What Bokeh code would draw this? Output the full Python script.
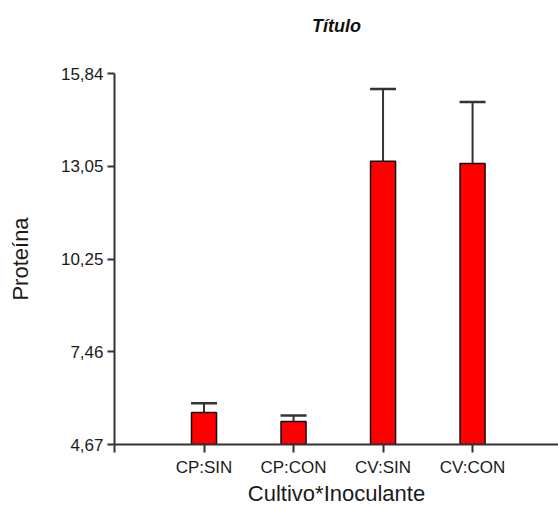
from bokeh.plotting import figure
from bokeh.models import Range1d, FixedTicker, Whisker, TeeHead, ColumnDataSource, LinearAxis
from bokeh.embed import file_html
from bokeh.resources import INLINE

categories = ["CP:SIN", "CP:CON", "CV:SIN", "CV:CON"]
means = [5.63, 5.36, 13.20, 13.13]
errors = [0.28, 0.18, 2.17, 1.85]
y_ticks = [4.67, 7.46, 10.25, 13.05, 15.84]
y_tick_labels = ["4,67", "7,46", "10,25", "13,05", "15,84"]
title_text = "Título"

xs = list(range(1, len(categories) + 1))
uppers = [m + e for m, e in zip(means, errors)]
src = ColumnDataSource(dict(x=xs, top=means, upper=uppers))

FONT = "Liberation Sans"
AX = "#333333"
TXT = "#1a1a1a"

p = figure(width=558, height=508, output_backend="svg", toolbar_location=None,
           x_range=Range1d(0, 4.96), y_range=Range1d(y_ticks[0], y_ticks[-1]),
           min_border_left=114, min_border_right=0, min_border_top=73, min_border_bottom=64)
p.outline_line_color = None
p.grid.visible = False
p.background_fill_color = "white"
p.border_fill_color = "white"

p.vbar(x="x", top="top", bottom=y_ticks[0], width=0.28, source=src,
       fill_color="#ff0000", line_color="#111111", line_width=1.5)
w = Whisker(base="x", lower="top", upper="upper", source=src,
            line_color=AX, line_width=2,
            upper_head=TeeHead(size=26, line_color=AX, line_width=2.5),
            lower_head=None)
p.add_layout(w)

xax = p.below[0]
yax = p.left[0]

yax.ticker = FixedTicker(ticks=y_ticks)
yax.major_label_overrides = {t: l for t, l in zip(y_ticks, y_tick_labels)}
yax.axis_label = "Proteína"
xax.ticker = FixedTicker(ticks=[0] + xs)
xax.major_label_overrides = {0: ""} | {x: c for x, c in zip(xs, categories)}
xax.axis_label = "Cultivo*Inoculante"

for ax in (xax, yax):
    ax.axis_line_color = AX
    ax.axis_line_width = 2
    ax.major_tick_line_color = AX
    ax.major_tick_line_width = 2
    ax.major_tick_in = 0
    ax.minor_tick_line_color = None
    ax.major_label_text_font = FONT
    ax.major_label_text_font_size = "17px"
    ax.major_label_text_color = TXT
    ax.axis_label_text_font = FONT
    ax.axis_label_text_font_size = "22px"
    ax.axis_label_text_font_style = "normal"
    ax.axis_label_text_color = TXT

yax.major_tick_out = 7
yax.major_label_standoff = 4
yax.axis_label_standoff = 25
xax.major_tick_out = 8
xax.major_label_standoff = 5
xax.axis_label_standoff = 1

# title drawn as the label of a bare axis above the frame
tax = LinearAxis(ticker=FixedTicker(ticks=[]), axis_label=title_text,
                 axis_line_color=None, major_tick_line_color=None, minor_tick_line_color=None,
                 major_tick_out=0, major_tick_in=0, major_label_standoff=0,
                 major_label_text_color=None, major_label_text_font_size="1px",
                 axis_label_standoff=38, axis_label_text_font=FONT,
                 axis_label_text_font_style="bold italic", axis_label_text_font_size="18px",
                 axis_label_text_color="#111111")
p.add_layout(tax, "above")

open("out.html", "w").write(file_html(p, INLINE))
